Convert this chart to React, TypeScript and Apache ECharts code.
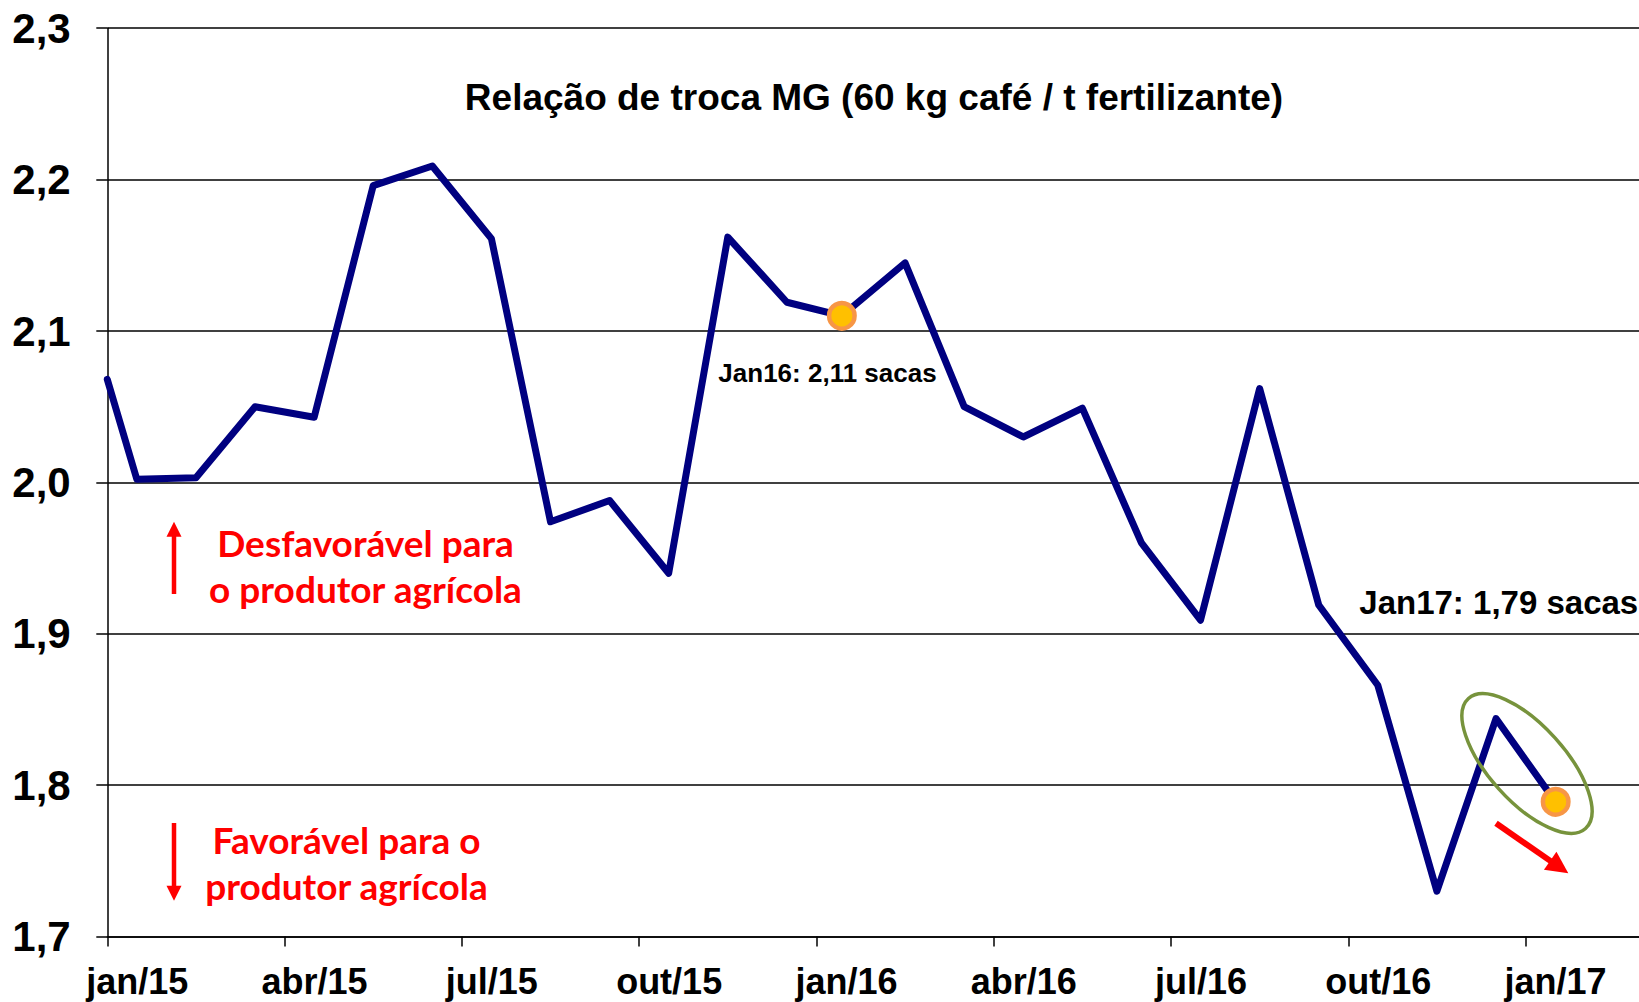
import React, { useEffect, useRef } from "react";
import * as echarts from "echarts";

// Month offsets from jan/15 (0 = start of jan/15), mid-month positions
const monthPos = [
  0, 0.5, 1.5, 2.5, 3.5, 4.5, 5.5, 6.5, 7.5, 8.5, 9.5, 10.5, 11.5, 12.43,
  13.5, 14.5, 15.5, 16.5, 17.5, 18.5, 19.5, 20.5, 21.5, 22.5, 23.5, 24.36,
];
// Relação de troca (sacas de 60 kg de café por t de fertilizante)
const ratio = [
  2.068, 2.002, 2.003, 2.05, 2.043, 2.196, 2.209, 2.161, 1.974, 1.988, 1.94,
  2.162, 2.119, 2.11, 2.145, 2.05, 2.03, 2.049, 1.96, 1.909, 2.062, 1.919,
  1.866, 1.73, 1.844, 1.797,
];
// Highlighted points (Jan16 and Jan17)
const highlightPos = [12.43, 24.51];
const highlightVal = [2.11, 1.789];

const xTickLabels = [
  "jan/15", "abr/15", "jul/15", "out/15", "jan/16", "abr/16", "jul/16", "out/16", "jan/17",
];
const yTickLabels = ["1,7", "1,8", "1,9", "2,0", "2,1", "2,2", "2,3"];

const titleText = "Relação de troca MG (60 kg café / t fertilizante)";
const jan16Text = "Jan16: 2,11 sacas";
const jan17Text = "Jan17: 1,79 sacas";
const upText = ["Desfavorável para", "o produtor agrícola"];
const downText = ["Favorável para o", "produtor agrícola"];

function arrow(x1: number, y1: number, x2: number, y2: number, headLen: number, headHalf: number, width: number, color: string) {
  const dx = x2 - x1;
  const dy = y2 - y1;
  const len = Math.sqrt(dx * dx + dy * dy);
  const ux = dx / len;
  const uy = dy / len;
  const bx = x2 - ux * headLen;
  const by = y2 - uy * headLen;
  const px = -uy;
  const py = ux;
  return [
    {
      type: "line",
      shape: { x1, y1, x2: bx + ux * 1, y2: by + uy * 1 },
      style: { stroke: color, lineWidth: width },
      z: 10,
    },
    {
      type: "polygon",
      shape: {
        points: [
          [x2, y2],
          [bx + px * headHalf, by + py * headHalf],
          [bx - px * headHalf, by - py * headHalf],
        ],
      },
      style: { fill: color },
      z: 10,
    },
  ];
}

export default function App() {
  const ref = useRef<HTMLDivElement>(null);
  useEffect(() => {
    document.body.style.margin = "0";
    const chart = echarts.init(ref.current!, null, { renderer: "svg" });
    const arial = "Liberation Sans, Arial, sans-serif";
    const calibri = "Lato, Carlito, Calibri, sans-serif";
    const redFont = `bold 37px ${calibri}`;
    const option: any = {
      animation: false,
      backgroundColor: "#ffffff",
      grid: { left: 107.3, top: 28.2, right: 0, bottom: 65.4, containLabel: false },
      xAxis: {
        type: "value",
        min: 0,
        max: 25.92,
        interval: 3,
        splitLine: { show: false },
        axisLine: { show: true, lineStyle: { color: "#000", width: 1.5 } },
        axisTick: { show: true, length: 10, lineStyle: { color: "#000", width: 1.5 } },
        axisLabel: {
          show: true,
          margin: 27,
          color: "#000",
          fontFamily: arial,
          fontWeight: "bold",
          fontSize: 36,
          padding: [0, 0, 0, 60],
          showMaxLabel: false,
          formatter: (v: number) => {
            const i = Math.round(v / 3);
            return Math.abs(v - i * 3) < 1e-6 && xTickLabels[i] ? xTickLabels[i] : "";
          },
        },
      },
      yAxis: {
        type: "value",
        min: 1.7,
        max: 2.3,
        interval: 0.1,
        axisLine: { show: true, lineStyle: { color: "#000", width: 1.5 } },
        axisTick: { show: true, length: 11, lineStyle: { color: "#000", width: 1.5 } },
        splitLine: { show: true, lineStyle: { color: "#000", width: 1.5 } },
        axisLabel: {
          margin: 36.6,
          color: "#000",
          fontFamily: arial,
          fontWeight: "bold",
          fontSize: 42,
          formatter: (v: number) => yTickLabels[Math.round((v - 1.7) / 0.1)] ?? "",
        },
      },
      series: [
        {
          type: "line",
          data: monthPos.map((m, i) => [m, ratio[i]]),
          showSymbol: false,
          symbol: "none",
          clip: true,
          lineStyle: { color: "#000080", width: 7, join: "round", cap: "round" },
          z: 3,
        },
        {
          type: "scatter",
          data: highlightPos.map((m, i) => [m, highlightVal[i]]),
          symbol: "circle",
          symbolSize: 25.5,
          itemStyle: { color: "#FFC000", borderColor: "#F79646", borderWidth: 4.5, opacity: 1 },
          z: 5,
        },
      ],
      graphic: [
        {
          type: "text",
          x: 874,
          y: 97,
          style: {
            text: titleText,
            font: `bold 37px ${arial}`,
            fill: "#000",
            align: "center",
            verticalAlign: "middle",
          },
          z: 20,
        },
        {
          type: "text",
          x: 827.5,
          y: 372.6,
          style: {
            text: jan16Text,
            font: `bold 26px ${arial}`,
            fill: "#000",
            align: "center",
            verticalAlign: "middle",
          },
          z: 20,
        },
        {
          type: "text",
          x: 1359.3,
          y: 602.8,
          style: {
            text: jan17Text,
            font: `bold 33px ${arial}`,
            fill: "#000",
            align: "left",
            verticalAlign: "middle",
          },
          z: 20,
        },
        {
          type: "text",
          x: 365.5,
          y: 542,
          style: { text: upText[0], font: redFont, fill: "#FF0000", align: "center", verticalAlign: "middle" },
          z: 20,
        },
        {
          type: "text",
          x: 365.5,
          y: 588,
          style: { text: upText[1], font: redFont, fill: "#FF0000", align: "center", verticalAlign: "middle" },
          z: 20,
        },
        {
          type: "text",
          x: 346.5,
          y: 839,
          style: { text: downText[0], font: redFont, fill: "#FF0000", align: "center", verticalAlign: "middle" },
          z: 20,
        },
        {
          type: "text",
          x: 346.5,
          y: 885.5,
          style: { text: downText[1], font: redFont, fill: "#FF0000", align: "center", verticalAlign: "middle" },
          z: 20,
        },
        {
          type: "ellipse",
          x: 1527,
          y: 763.5,
          rotation: -0.838,
          shape: { cx: 0, cy: 0, rx: 87.5, ry: 38 },
          style: { fill: "none", stroke: "#77933C", lineWidth: 3.5 },
          z: 15,
        },
        ...arrow(174, 594, 174, 521.7, 15, 7.5, 4.5, "#FF0000"),
        ...arrow(174, 823, 174, 900.7, 15, 7.5, 4.5, "#FF0000"),
        ...arrow(1496, 823.3, 1568.3, 873.3, 22, 11, 6, "#FF0000"),
      ],
    };
    chart.setOption(option);
    return () => chart.dispose();
  }, []);
  return (
    <div
      ref={ref}
      style={{ position: "fixed", left: 0, top: 0, width: "1639px", height: "1002px", background: "#fff" }}
    />
  );
}
